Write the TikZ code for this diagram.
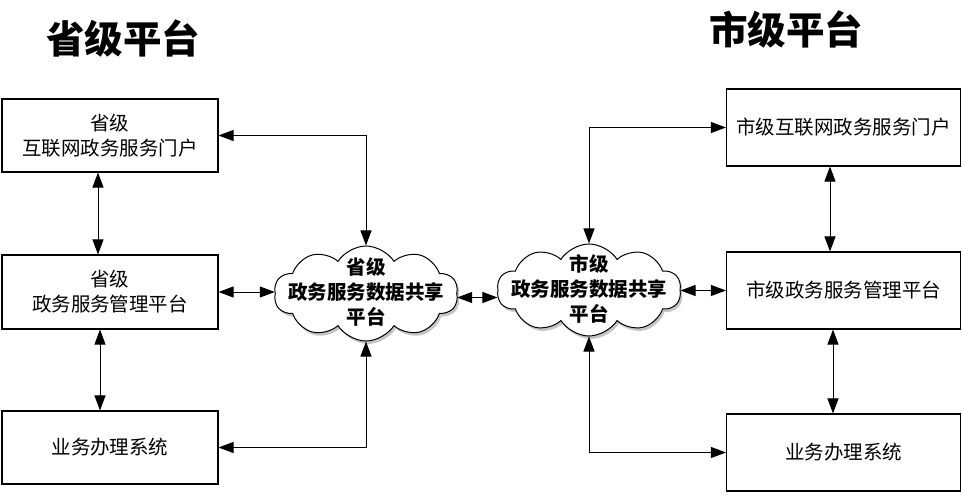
\documentclass[tikz,border=0pt]{standalone}
\usepackage{fontspec}
\setmainfont{Noto Sans CJK SC}
\usetikzlibrary{shapes.symbols,shadows,arrows.meta}
\begin{document}
\begin{tikzpicture}[x=1pt,y=-1pt,
  box/.style={draw,line width=1.1pt,rectangle,inner sep=0pt,align=center,font=\fontsize{19.5}{25}\selectfont},
  cloudshape/.style={cloud,draw,line width=1pt,fill=white,cloud puffs=10,cloud puff arc=115,aspect=2,inner sep=0pt,
    drop shadow={shadow xshift=2pt,shadow yshift=-3pt,fill=black!45}},
  cloudtext/.style={align=center,font=\fontsize{19.5}{25}\selectfont\bfseries},
  title/.style={font=\fontsize{38.5}{40}\selectfont\bfseries},
  link/.style={line width=1pt,{Triangle[length=15pt,width=11pt]}-{Triangle[length=15pt,width=11pt]}}]
\useasboundingbox (0,0) rectangle (962,500);
% titles
\node[title] (t1) at (123,38) {省级平台};
\node[title] (t2) at (786,29) {市级平台};
% left boxes
\node[box,minimum width=216,minimum height=73] (p1) at (110,135.5) {省级\\互联网政务服务门户};
\node[box,minimum width=216,minimum height=74] (m1) at (110,292) {省级\\政务服务管理平台};
\node[box,minimum width=216,minimum height=73] (b1) at (110,447.5) {业务办理系统};
% right boxes
\node[box,minimum width=234,minimum height=77] (p2) at (843.5,127.5) {市级互联网政务服务门户};
\node[box,minimum width=234,minimum height=77] (m2) at (843.5,290.5) {市级政务服务管理平台};
\node[box,minimum width=234,minimum height=77] (b2) at (843.5,452.5) {业务办理系统};
% clouds
\node[cloudshape,minimum width=184,minimum height=95] (c1) at (366,293.5) {};
\node[cloudtext] (c1t) at (366,292) {省级\\政务服务数据共享\\平台};
\node[cloudshape,minimum width=184,minimum height=92] (c2) at (589,290) {};
\node[cloudtext] (c2t) at (589,289) {市级\\政务服务数据共享\\平台};
% coordinates for vertical links
\coordinate (xl1) at (98,0);
\coordinate (xl2) at (100,0);
\coordinate (xr1) at (830,0);
\coordinate (xr2) at (833,0);
% left links
\draw[link] (p1.south -| xl1) -- (m1.north -| xl1);
\draw[link] (m1.south -| xl2) -- (b1.north -| xl2);
\draw[link] (p1.east) -| (c1.north);
\draw[link] (m1.east) -- (m1.east -| c1.west);
\draw[link] (b1.east) -| (c1.south);
% cloud to cloud
\draw[link] ([yshift=-4pt]c1.east) -- ([yshift=-4pt]c1.east -| c2.west);
% right links
\draw[link] (p2.west) -| (c2.north);
\draw[link] (m2.west) -- (m2.west -| c2.east);
\draw[link] (b2.west) -| (c2.south);
\draw[link] (p2.south -| xr1) -- (m2.north -| xr1);
\draw[link] (m2.south -| xr2) -- (b2.north -| xr2);
\end{tikzpicture}
\end{document}
